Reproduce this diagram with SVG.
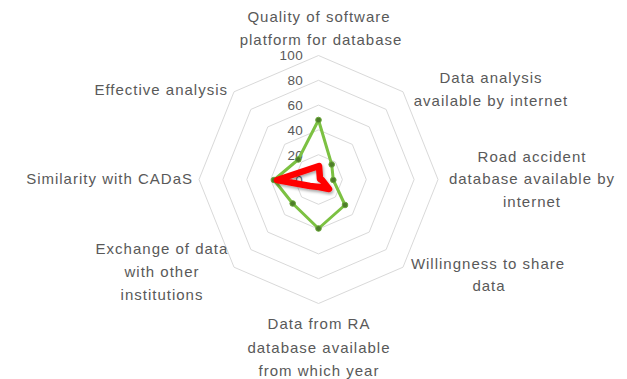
<svg xmlns="http://www.w3.org/2000/svg" width="627" height="379" viewBox="0 0 627 379">
<defs>
<style>
.grid{fill:none;stroke:#d9d9d9;stroke-width:1}
.lbl{font-family:"Liberation Sans",Arial,sans-serif;font-size:15px;fill:#595959;letter-spacing:1px}
.tick{font-family:"Liberation Sans",Arial,sans-serif;font-size:13.5px;fill:#595959;text-anchor:end;letter-spacing:0.3px}
.mid{text-anchor:middle}
.end{text-anchor:end}
.green{fill:none;stroke:#7cc142;stroke-width:3;stroke-linejoin:round}
.mk{fill:#4e7d2a;stroke:#6aa83a;stroke-width:1}
.red{fill:none;stroke:#ff0000;stroke-width:6.5;stroke-linejoin:round;stroke-linecap:round}
</style>
<filter id="sh" x="-30%" y="-30%" width="160%" height="160%">
<feDropShadow dx="1" dy="2" stdDeviation="1.5" flood-color="#000" flood-opacity="0.35"/>
</filter>
</defs>
<rect width="627" height="379" fill="#ffffff"/>
<g id="grid">
<polygon class="grid" points="318.5,55.5 403,91.8 438,179.5 403,267.2 318.5,303.5 234,267.2 199,179.5 234,91.8"/>
<polygon class="grid" points="318.5,80.3 386.1,109.4 414.1,179.5 386.1,249.6 318.5,278.7 250.9,249.6 222.9,179.5 250.9,109.4"/>
<polygon class="grid" points="318.5,105.1 369.2,126.9 390.2,179.5 369.2,232.1 318.5,253.9 267.8,232.1 246.8,179.5 267.8,126.9"/>
<polygon class="grid" points="318.5,129.9 352.3,144.4 366.3,179.5 352.3,214.6 318.5,229.1 284.7,214.6 270.7,179.5 284.7,144.4"/>
<polygon class="grid" points="318.5,154.7 335.4,162 342.4,179.5 335.4,197 318.5,204.3 301.6,197 294.6,179.5 301.6,162"/>
</g>
<g id="ticks">
<text class="tick" x="303" y="60">100</text>
<text class="tick" x="303" y="85">80</text>
<text class="tick" x="303" y="110">60</text>
<text class="tick" x="303" y="135">40</text>
<text class="tick" x="303" y="159.5">20</text>
<text class="tick" x="303" y="184.5">0</text>
</g>
<g id="connectors">
<g id="series-green">
<polygon class="green" points="318.5,120 331.7,164.5 333.3,180 345,205 318.5,228.5 292.7,203.5 274,180 298.3,159.5"/>
<circle class="mk" cx="318.5" cy="120" r="2.8"/>
<circle class="mk" cx="331.7" cy="164.5" r="2.8"/>
<circle class="mk" cx="333.3" cy="180" r="2.8"/>
<circle class="mk" cx="345" cy="205" r="2.8"/>
<circle class="mk" cx="318.5" cy="228.5" r="2.8"/>
<circle class="mk" cx="292.7" cy="203.5" r="2.8"/>
<circle class="mk" cx="274" cy="180" r="2.8"/>
<circle class="mk" cx="298.3" cy="159.5" r="2.8"/>
</g>
<g id="series-red" filter="url(#sh)">
<polygon class="red" points="319,166 320,179 322,180 329,189 319,187 310,186 277,180 307,170"/>
</g>
</g>
<g id="n-quality">
<text class="lbl mid" x="319" y="22">Quality of software</text>
<text class="lbl mid" x="321" y="45">platform for database</text>
</g>
<g id="n-data-analysis">
<text class="lbl mid" x="491" y="83">Data analysis</text>
<text class="lbl mid" x="491" y="106">available by internet</text>
</g>
<g id="n-road-accident">
<text class="lbl mid" x="532" y="161.5">Road accident</text>
<text class="lbl mid" x="532" y="184">database available by</text>
<text class="lbl mid" x="532" y="207">internet</text>
</g>
<g id="n-willingness">
<text class="lbl mid" x="488" y="268.5">Willingness to share</text>
<text class="lbl mid" x="489" y="291">data</text>
</g>
<g id="n-data-from-ra">
<text class="lbl mid" x="319" y="329">Data from RA</text>
<text class="lbl mid" x="319" y="352.5">database available</text>
<text class="lbl mid" x="319" y="376">from which year</text>
</g>
<g id="n-exchange">
<text class="lbl mid" x="162" y="253.5">Exchange of data</text>
<text class="lbl mid" x="162" y="277">with other</text>
<text class="lbl mid" x="162" y="300">institutions</text>
</g>
<g id="n-similarity">
<text class="lbl end" x="193" y="183.5">Similarity with CADaS</text>
</g>
<g id="n-effective">
<text class="lbl end" x="228" y="95">Effective analysis</text>
</g>
</svg>
